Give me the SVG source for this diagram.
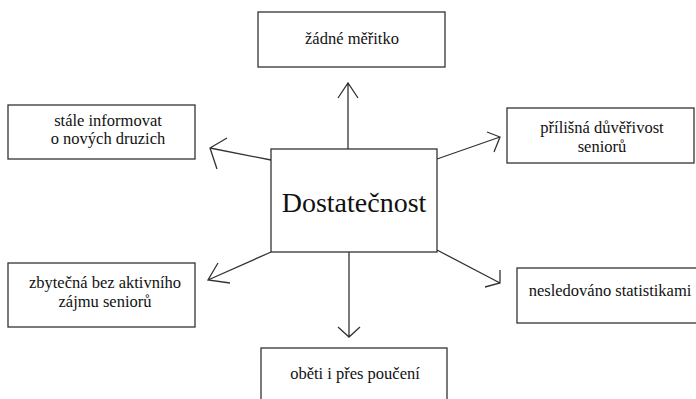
<svg xmlns="http://www.w3.org/2000/svg" width="696" height="399" viewBox="0 0 696 399">
<style>
.box{fill:#fff;stroke:#333;stroke-width:1.3}
.t{font-family:'Liberation Serif','DejaVu Serif',serif;font-size:16.5px;fill:#111;text-anchor:middle}
.big{font-size:28px}
.c{fill:none;stroke:#333;stroke-width:1.3}
</style>
<rect width="696" height="399" fill="#fff"/>
<g id="connectors">
<path class="c" d="M348,149 V83 M338,98 L348,83 L358,98"/>
<path class="c" d="M271,160 L210,148 M227,138 L210,148 L217,169"/>
<path class="c" d="M437,159 L500,137 M487,132 L500,137 L494,152"/>
<path class="c" d="M271,252 L208,280 M218,263 L208,280 L230,283"/>
<path class="c" d="M437,250 L500,283 M500,270 L500,283 L485,287"/>
<path class="c" d="M349,252 V337 M338,327 L349,337 L360,327"/>
</g>
<g id="center"><rect class="box" x="271" y="149" width="166" height="103"/><text class="t big" x="354" y="212" font-family="Liberation Serif, serif">Dostatečnost</text></g>
<g id="top"><rect class="box" x="258" y="12" width="187" height="55"/><text class="t" x="352" y="44" font-family="Liberation Serif, serif">žádné měřitko</text></g>
<g id="topleft"><rect class="box" x="8" y="105" width="187" height="54"/><text class="t" x="108" y="126" font-family="Liberation Serif, serif">stále informovat</text><text class="t" x="108" y="144" font-family="Liberation Serif, serif">o nových druzich</text></g>
<g id="topright"><rect class="box" x="507" y="108" width="187" height="55"/><text class="t" x="602" y="133" font-family="Liberation Serif, serif">přílišná důvěřivost</text><text class="t" x="602" y="152" font-family="Liberation Serif, serif">seniorů</text></g>
<g id="bottomleft"><rect class="box" x="8" y="263" width="187" height="64"/><text class="t" x="105" y="288" font-family="Liberation Serif, serif">zbytečná bez aktivního</text><text class="t" x="105" y="307" font-family="Liberation Serif, serif">zájmu seniorů</text></g>
<g id="bottomright"><rect class="box" x="517" y="268" width="185" height="55"/><text class="t" x="610" y="296" font-family="Liberation Serif, serif">nesledováno statistikami</text></g>
<g id="bottom"><rect class="box" x="261" y="348" width="186" height="60"/><text class="t" x="355" y="379" font-family="Liberation Serif, serif">oběti i přes poučení</text></g>
</svg>
